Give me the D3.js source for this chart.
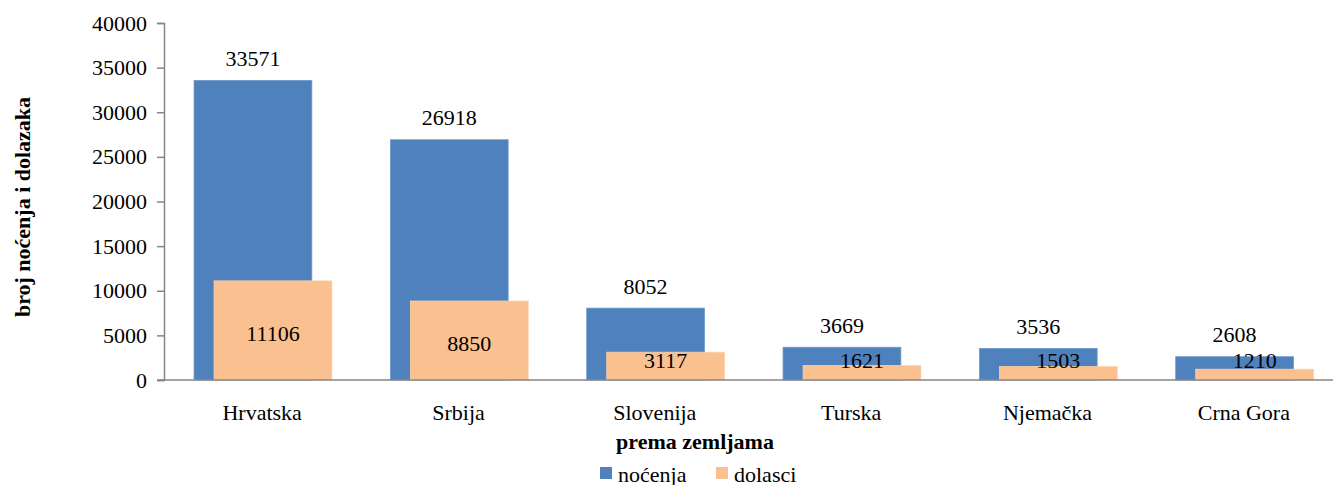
<!DOCTYPE html>
<html><head><meta charset="utf-8">
<script src="https://cdn.jsdelivr.net/npm/d3@7"></script>
<style>
body{margin:0;background:#fff;}
svg, svg text{font-family:"Liberation Serif","DejaVu Serif",serif !important;}
</style></head>
<body><svg id="c" width="1333" height="485"></svg>
<script>
const categories = ["Hrvatska","Srbija","Slovenija","Turska","Njemačka","Crna Gora"];
const nocenja = [33571,26918,8052,3669,3536,2608];
const dolasci = [11106,8850,3117,1621,1503,1210];
const yTicks = [0,5000,10000,15000,20000,25000,30000,35000,40000];
const seriesNames = ["noćenja","dolasci"];
const colors = ["#4F81BD","#FAC090"];

(function(){
const FF = "Liberation Serif";
const svg = d3.select("#c").attr("font-family",FF);
const mLeft = 164, mRight = 1342, mTop = 23, mBottom = 380;
const x = d3.scaleBand().domain(categories).range([mLeft,mRight]).padding(0);
const y = d3.scaleLinear().domain([0,40000]).range([mBottom,mTop]);
const bw = x.bandwidth();
const fs = 22;

// y axis
const ya = svg.append("g").attr("transform",`translate(${mLeft},0)`)
  .call(d3.axisLeft(y).tickValues(yTicks).tickSize(7).tickPadding(10).tickFormat(d3.format("d")));
ya.attr("font-family",FF).attr("font-size",fs);
ya.select(".domain").attr("stroke","#868686").attr("stroke-width",1.5);
ya.selectAll(".tick line").attr("stroke","#868686").attr("stroke-width",1.5);
ya.selectAll(".tick text").attr("fill","#000");

// bars
svg.append("g").selectAll("rect").data(categories).join("rect")
  .attr("x",(d)=>x(d)+bw*0.153).attr("width",bw*0.6)
  .attr("y",(d,i)=>y(nocenja[i])).attr("height",(d,i)=>y(0)-y(nocenja[i]))
  .attr("fill",colors[0]).attr("stroke","#6f98cc").attr("stroke-width",0.8);
svg.append("g").selectAll("rect").data(categories).join("rect")
  .attr("x",(d)=>x(d)+bw*0.255).attr("width",bw*0.6)
  .attr("y",(d,i)=>y(dolasci[i])).attr("height",(d,i)=>y(0)-y(dolasci[i]))
  .attr("fill",colors[1]).attr("stroke","#fcd0a8").attr("stroke-width",0.8);

// x axis line
svg.append("line").attr("x1",mLeft-7).attr("x2",mRight).attr("y1",mBottom).attr("y2",mBottom)
  .attr("stroke","#868686").attr("stroke-width",1.5);

// labels
svg.append("g").selectAll("text").data(categories).join("text")
  .attr("x",(d)=>x(d)+bw*0.153+bw*0.3).attr("y",(d,i)=>y(nocenja[i])-22)
  .attr("text-anchor","middle").attr("dominant-baseline","central")
  .attr("font-size",fs).text((d,i)=>nocenja[i]);
svg.append("g").selectAll("text").data(categories).join("text")
  .attr("x",(d)=>x(d)+bw*0.255+bw*0.3).attr("y",(d,i)=>Math.min((y(dolasci[i])+y(0))/2+3, 360))
  .attr("text-anchor","middle").attr("dominant-baseline","central")
  .attr("font-size",fs).text((d,i)=>dolasci[i]);

// category labels
svg.append("g").selectAll("text").data(categories).join("text")
  .attr("x",(d)=>x(d)+bw/2).attr("y",412)
  .attr("text-anchor","middle").attr("dominant-baseline","central")
  .attr("font-size",fs).text(d=>d);

// axis titles
svg.append("text").attr("x",695).attr("y",441).attr("text-anchor","middle")
  .attr("dominant-baseline","central").attr("font-size",fs).attr("font-weight","bold").text("prema zemljama");
svg.append("text").attr("transform","translate(22,207) rotate(-90)").attr("text-anchor","middle")
  .attr("dominant-baseline","central").attr("font-size",fs).attr("font-weight","bold").text("broj noćenja i dolazaka");

// legend
const lg = svg.append("g");
const lx = [600,716];
seriesNames.forEach((n,i)=>{
  lg.append("rect").attr("x",lx[i]).attr("y",467).attr("width",12).attr("height",12).attr("fill",colors[i]);
  lg.append("text").attr("x",lx[i]+18).attr("y",474).attr("dominant-baseline","central")
    .attr("font-size",fs).text(n);
});
})();
</script></body></html>
